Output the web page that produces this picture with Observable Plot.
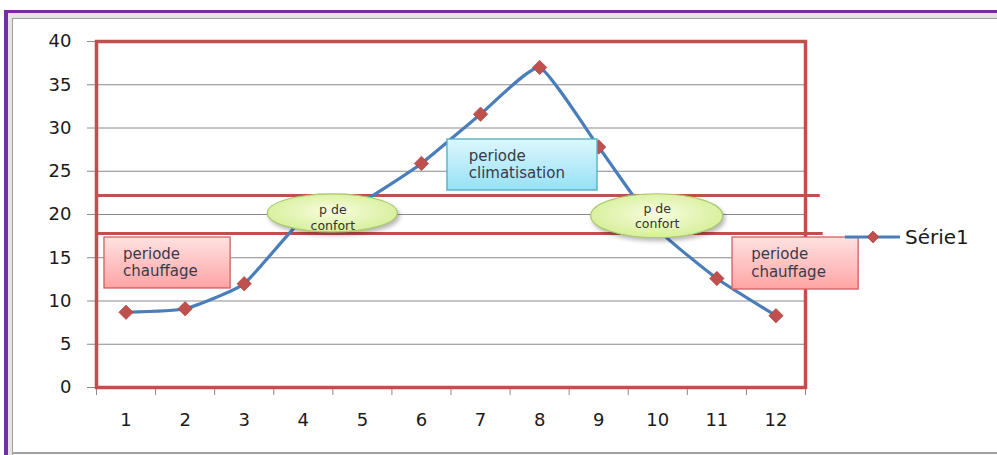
<!DOCTYPE html>
<html>
<head>
<meta charset="utf-8">
<script src="https://cdn.jsdelivr.net/npm/d3@7"></script>
<script src="https://cdn.jsdelivr.net/npm/@observablehq/plot@0.6"></script>
<style>
  html, body { margin: 0; padding: 0; background: #fff; }
  #wrap { position: relative; width: 997px; height: 455px; overflow: hidden; background: #fff; }
  #wrap svg.plot { position: absolute; left: 0; top: 0; }
  .pTop { position: absolute; left: 4px; top: 10px; width: 993px; height: 3px; background: #7030a0; }
  .pLeft { position: absolute; left: 4px; top: 10px; width: 4px; height: 445px; background: #7030a0; }
  .gTopBand { position: absolute; left: 8px; top: 13px; width: 989px; height: 5px; background: #e4e4e4; }
  .gLeftBand { position: absolute; left: 8px; top: 13px; width: 4px; height: 442px; background: #e4e4e4; }
  .gTop { position: absolute; left: 12px; top: 18px; width: 985px; height: 1px; background: #a0a0a0; }
  .gLeft { position: absolute; left: 12px; top: 18px; width: 1px; height: 437px; background: #a0a0a0; }
  .gBot { position: absolute; left: 12px; top: 452px; width: 985px; height: 2px; background: #a0a0a0; }
  #legend { position: absolute; left: 845px; top: 224px; height: 26px; display: flex; align-items: center; font-family: "DejaVu Sans", sans-serif; font-size: 20px; color: #1a1a1a; }
  g[aria-label="boxes"] rect, g[aria-label="ellipses"] ellipse { filter: drop-shadow(2px 3px 2px rgba(0,0,0,0.28)); }
  g[aria-label="bands"] line { filter: drop-shadow(1px 2px 1px rgba(0,0,0,0.25)); }
</style>
</head>
<body>
<svg width="0" height="0" style="position:absolute">
  <defs>
    <linearGradient id="pinkGrad" x1="0" y1="0" x2="0" y2="1">
      <stop offset="0" stop-color="#ffe2e2"/>
      <stop offset="1" stop-color="#ffa4a4"/>
    </linearGradient>
    <linearGradient id="blueGrad" x1="0" y1="0" x2="0" y2="1">
      <stop offset="0" stop-color="#def7fd"/>
      <stop offset="1" stop-color="#95e1f6"/>
    </linearGradient>
    <radialGradient id="greenGrad" cx="0.5" cy="0.45" r="0.6">
      <stop offset="0" stop-color="#f8fde0"/>
      <stop offset="1" stop-color="#d3ee92"/>
    </radialGradient>
  </defs>
</svg>
<div id="wrap">
  <div class="pTop"></div><div class="gTopBand"></div><div class="pLeft"></div><div class="gLeftBand"></div>
  <div class="gTop"></div><div class="gLeft"></div><div class="gBot"></div>
  <div id="legend">
    <svg width="58" height="26"><line x1="0" y1="13" x2="55" y2="13" stroke="#4a7ebb" stroke-width="3"/><path d="M28,7 L34,13 L28,19 L22,13 Z" fill="#c0504d" stroke="#a33f3c" stroke-width="0.6"/></svg>
    <span style="margin-left:2px">Série1</span>
  </div>
</div>
<script>
// --- data ---
const months = [1, 2, 3, 4, 5, 6, 7, 8, 9, 10, 11, 12];
const serie1 = [8.7, 9.1, 12.0, 19.5, 21.5, 25.9, 31.6, 37.0, 27.8, 18.3, 12.6, 8.3];
const yTicks = [0, 5, 10, 15, 20, 25, 30, 35, 40];
const seriesName = "Série1";
// comfort band limits (drawn shapes)
const bandLimits = [22.2, 17.8];
const bandEnds = [12.75, 12.8];
// annotations (in data coordinates)
const boxLabels = ["periode\nchauffage", "periode\nclimatisation", "periode\nchauffage"];
const boxX1 = [0.635, 6.44, 11.265];
const boxX2 = [2.77, 8.98, 13.4];
const boxY1 = [11.45, 22.77, 11.33];
const boxY2 = [17.34, 28.67, 17.34];
const boxTextX = [0.95, 6.8, 11.58];
const boxTextY = [14.55, 25.8, 14.45];
const boxFill = ["url(#pinkGrad)", "url(#blueGrad)", "url(#pinkGrad)"];
const boxStroke = ["#d06060", "#4bacc6", "#d06060"];
const ellipseLabel = "p de\nconfort";
const ellipseX = [4.5, 9.99];
const ellipseY = [20.12, 19.8];
const ellipseRx = [65, 66];
const ellipseRy = [19, 22];
const ellipseTextY = [19.7, 19.9];

const data = months.map((m, i) => ({month: m, value: serie1[i]}));
const boxes = boxLabels.map((t, i) => ({t, x1: boxX1[i], x2: boxX2[i], y1: boxY1[i], y2: boxY2[i], tx: boxTextX[i], ty: boxTextY[i], fill: boxFill[i], stroke: boxStroke[i]}));
const ellipses = ellipseX.map((x, i) => ({x, y: ellipseY[i], rx: ellipseRx[i], ry: ellipseRy[i], ty: ellipseTextY[i], t: ellipseLabel}));
const bands = bandLimits.map((v, i) => ({y: v, x2: bandEnds[i]}));
const halfTicks = d3.range(0.5, 13, 1);

function ellipseMark(index, scales, values, dimensions) {
  const g = document.createElementNS("http://www.w3.org/2000/svg", "g");
  g.setAttribute("aria-label", "ellipses");
  for (const e of ellipses) {
    const el = document.createElementNS("http://www.w3.org/2000/svg", "ellipse");
    el.setAttribute("cx", scales.x(e.x));
    el.setAttribute("cy", scales.y(e.y));
    el.setAttribute("rx", e.rx);
    el.setAttribute("ry", e.ry);
    el.setAttribute("fill", "url(#greenGrad)");
    el.setAttribute("stroke", "#a9c96a");
    el.setAttribute("stroke-width", 1.2);
    g.appendChild(el);
  }
  return g;
}

const plot = Plot.plot({
  width: 997,
  height: 455,
  marginLeft: 96,
  marginRight: 192,
  marginTop: 41,
  marginBottom: 68,
  style: {fontFamily: "DejaVu Sans, sans-serif", fontSize: "18px", color: "#1a1a1a", background: "transparent", overflow: "visible"},
  x: {domain: [0.5, 12.5], type: "linear"},
  y: {domain: [0, 40]},
  marks: [
    Plot.ruleY(yTicks.slice(1), {stroke: "#8a8a8a", strokeWidth: 1}),
    Plot.axisY({ticks: yTicks, tickSize: 9, tickPadding: 16, stroke: "#8a8a8a", tickFormat: d => d, label: null, fontSize: 18}),
    Plot.axisX({ticks: halfTicks, tickSize: 8, tickFormat: () => "", stroke: "#8a8a8a", label: null}),
    Plot.axisX({ticks: months, tickSize: 0, tickPadding: 26, tickFormat: d => d, label: null, fontSize: 18}),
    Plot.frame({stroke: "#c0504d", strokeWidth: 3.5}),
    Plot.ruleY(bands, {y: "y", x1: 0.5, x2: "x2", stroke: "#c0504d", strokeWidth: 3, ariaLabel: "bands"}),
    Plot.line(data, {x: "month", y: "value", stroke: "#4a7ebb", strokeWidth: 3.2, curve: "cardinal", tension: 0.55}),
    Plot.dot(data, {x: "month", y: "value", symbol: "diamond2", r: 6.5, fill: "#c0504d", stroke: "#a33f3c", strokeWidth: 0.6}),
    ellipseMark,
    Plot.text(ellipses, {x: "x", y: "ty", text: "t", fontSize: 12.5, lineHeight: 1.27, fill: "#333", textAnchor: "middle"}),
    Plot.rect(boxes, {x1: "x1", x2: "x2", y1: "y1", y2: "y2", fill: "fill", stroke: "stroke", strokeWidth: 1.3, ariaLabel: "boxes"}),
    Plot.text(boxes, {x: "tx", y: "ty", text: "t", fontSize: 15, lineHeight: 1.15, fill: "#3a3a4a", textAnchor: "start"})
  ]
});
plot.classList.add("plot");
document.getElementById("wrap").insertBefore(plot, document.getElementById("wrap").firstChild);
</script>
</body>
</html>
